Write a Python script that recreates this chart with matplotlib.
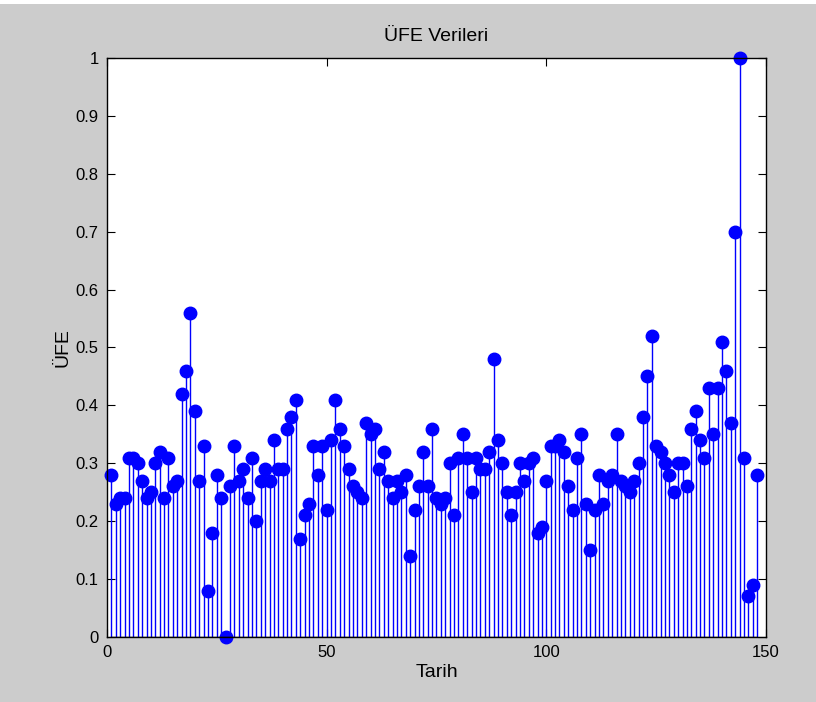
import numpy as np
import matplotlib
matplotlib.use("Agg")
import matplotlib.pyplot as plt
from matplotlib.patches import Rectangle

plt.rcParams['font.family'] = ['Liberation Sans', 'DejaVu Sans']

# UFE index values, one per date
ufe = [
    0.28, 0.23, 0.24, 0.24, 0.31, 0.31, 0.30, 0.27, 0.24, 0.25,
    0.30, 0.32, 0.24, 0.31, 0.26, 0.27, 0.42, 0.46, 0.56, 0.39,
    0.27, 0.33, 0.08, 0.18, 0.28, 0.24, 0.00, 0.26, 0.33, 0.27,
    0.29, 0.24, 0.31, 0.20, 0.27, 0.29, 0.27, 0.34, 0.29, 0.29,
    0.36, 0.38, 0.41, 0.17, 0.21, 0.23, 0.33, 0.28, 0.33, 0.22,
    0.34, 0.41, 0.36, 0.33, 0.29, 0.26, 0.25, 0.24, 0.37, 0.35,
    0.36, 0.29, 0.32, 0.27, 0.24, 0.27, 0.25, 0.28, 0.14, 0.22,
    0.26, 0.32, 0.26, 0.36, 0.24, 0.23, 0.24, 0.30, 0.21, 0.31,
    0.35, 0.31, 0.25, 0.31, 0.29, 0.29, 0.32, 0.48, 0.34, 0.30,
    0.25, 0.21, 0.25, 0.30, 0.27, 0.30, 0.31, 0.18, 0.19, 0.27,
    0.33, 0.33, 0.34, 0.32, 0.26, 0.22, 0.31, 0.35, 0.23, 0.15,
    0.22, 0.28, 0.23, 0.27, 0.28, 0.35, 0.27, 0.26, 0.25, 0.27,
    0.30, 0.38, 0.45, 0.52, 0.33, 0.32, 0.30, 0.28, 0.25, 0.30,
    0.30, 0.26, 0.36, 0.39, 0.34, 0.31, 0.43, 0.35, 0.43, 0.51,
    0.46, 0.37, 0.70, 1.00, 0.31, 0.07, 0.09, 0.28,
]
tarih = np.arange(1, len(ufe) + 1)

x_ticks = [0, 50, 100, 150]
y_ticks = np.round(np.arange(0, 1.01, 0.1), 1)

fig = plt.figure(figsize=(8.16, 7.02), dpi=100, facecolor='#cccccc')
ax = fig.add_axes([0.1311, 0.0926, 0.8076, 0.8248])
ax.set_facecolor('white')

markerline, stemlines, baseline = ax.stem(tarih, ufe, linefmt='-', markerfmt='o', basefmt='-')
stemlines.set_color('#0000ff')
stemlines.set_linewidth(1.0)
markerline.set_color('#0000ff')
markerline.set_markersize(9)
markerline.set_clip_on(False)
baseline.set_color('black')
baseline.set_linewidth(1.0)

ax.set_xlim(0, 150)
ax.set_ylim(0, 1)
ax.set_xticks(x_ticks)
ax.set_xticklabels([str(t) for t in x_ticks])
ax.set_yticks(y_ticks)
ax.set_yticklabels(['0'] + ['%g' % t for t in y_ticks[1:]])
ax.tick_params(direction='in', top=True, right=True, length=6, width=0.8,
               labelsize=12, pad=6)
for s in ax.spines.values():
    s.set_linewidth(1.0)

ax.set_title('ÜFE Verileri', fontsize=14, pad=12)
ax.set_xlabel('Tarih', fontsize=14, labelpad=3)
ax.set_ylabel('ÜFE', fontsize=14, labelpad=3)

# thin light strip along the top edge of the window
fig.add_artist(Rectangle((0, 0.994), 1, 0.006, transform=fig.transFigure,
                         facecolor='white', edgecolor='none'))

fig.savefig('out.png', dpi=100, facecolor=fig.get_facecolor())
